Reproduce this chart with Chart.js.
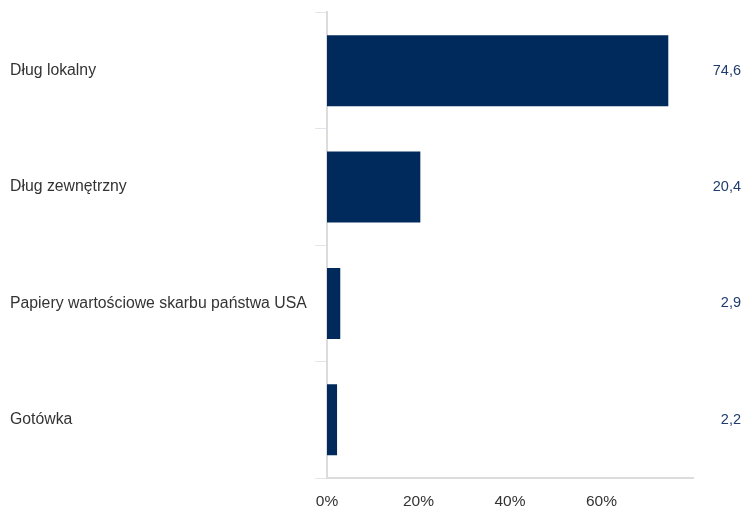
<!DOCTYPE html>
<html>
<head>
<meta charset="utf-8">
<script src="https://cdn.jsdelivr.net/npm/chart.js@4"></script>
<style>
  html, body { margin: 0; padding: 0; background: #fff; }
  #wrap { width: 743px; height: 506px; }
</style>
</head>
<body>
<div id="wrap"><canvas id="allocChart"></canvas></div>
<script>
// Data
const categories = ['Dług lokalny', 'Dług zewnętrzny', 'Papiery wartościowe skarbu państwa USA', 'Gotówka'];
const shares = [74.6, 20.4, 2.9, 2.2];
const shareLabels = ['74,6', '20,4', '2,9', '2,2'];

// Value labels at the right edge
const valueLabels = {
    id: 'valueLabels',
    afterDatasetsDraw(chart) {
        const ctx = chart.ctx;
        const meta = chart.getDatasetMeta(0);
        ctx.save();
        ctx.font = '14.5px "Liberation Sans", Arial, sans-serif';
        ctx.fillStyle = '#1f3c6e';
        ctx.textAlign = 'right';
        ctx.textBaseline = 'middle';
        meta.data.forEach((bar, i) => {
            ctx.fillText(shareLabels[i], chart.width - 2, bar.y);
        });
        ctx.restore();
    }
};

const allocCtx = document.getElementById('allocChart').getContext('2d');
const allocChart = new Chart(allocCtx, {
    type: 'bar',
    data: {
        labels: categories,
        datasets: [{
            data: shares,
            backgroundColor: '#002a5c',
            categoryPercentage: 1,
            barPercentage: 0.61
        }]
    },
    options: {
        indexAxis: 'y',
        responsive: true,
        maintainAspectRatio: false,
        animation: false,
        layout: {
            padding: { left: 10, right: 50, top: 7, bottom: 0 }
        },
        plugins: {
            legend: { display: false },
            tooltip: { enabled: false }
        },
        scales: {
            x: {
                min: 0,
                max: 80,
                afterFit(scale) { scale.height = 28; },
                border: { color: '#dcdcdc', width: 2 },
                grid: { display: false },
                ticks: {
                    stepSize: 20,
                    color: '#333',
                    padding: 6,
                    font: { family: '"Liberation Sans", Arial, sans-serif', size: 15.5 },
                    callback: v => (v >= 80 ? '' : v + '%')
                }
            },
            y: {
                afterFit(scale) { scale.width = 317; },
                border: { color: '#dcdcdc', width: 2 },
                grid: {
                    drawOnChartArea: false,
                    drawTicks: true,
                    tickLength: 12,
                    color: '#e2e5ee'
                },
                ticks: {
                    crossAlign: 'far',
                    color: '#333',
                    font: { family: '"Liberation Sans", Arial, sans-serif', size: 15.8 }
                }
            }
        }
    },
    plugins: [valueLabels]
});
</script>
</body>
</html>
